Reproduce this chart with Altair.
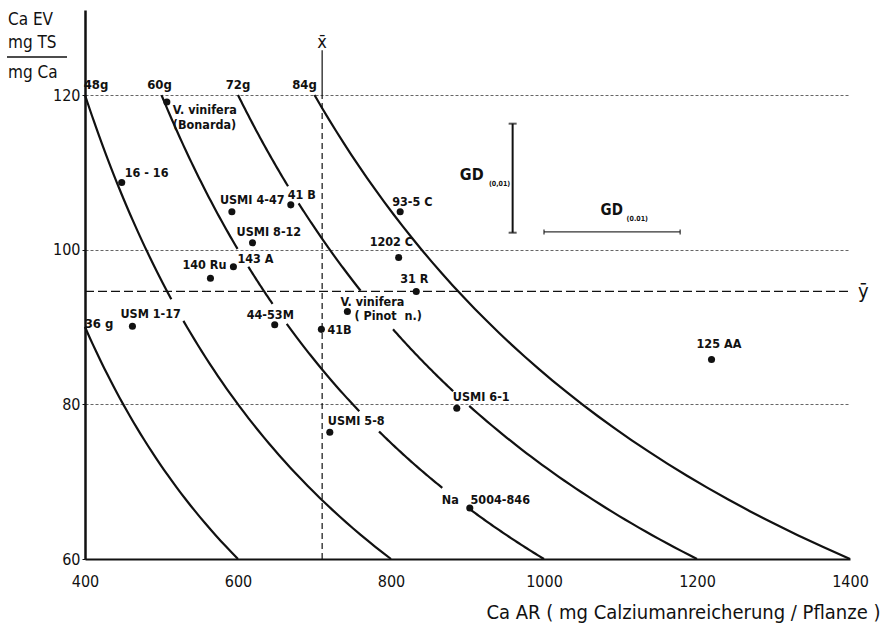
import altair as alt
import numpy as np
import pandas as pd

# ---------------- data ----------------
cultivars = ["V. vinifera (Bonarda)", "16-16", "USMI 4-47", "41 B", "USMI 8-12", "143 A",
             "140 Ru", "USM 1-17", "44-53M", "41B", "V. vinifera (Pinot n.)", "1202 C",
             "31 R", "USMI 6-1", "93-5C", "125 AA", "USMI 5-8", "Na 5004-846"]
ca_ar = [507, 448, 592, 669, 619, 594, 564, 462, 648, 709, 743, 810, 833, 886, 812, 1219, 720, 903]
ca_ev = [119.1, 108.7, 104.9, 105.8, 100.9, 97.8, 96.3, 90.1, 90.3, 89.7, 92.0, 99.0,
         94.6, 79.5, 104.9, 85.8, 76.4, 66.6]

# iso-lines of total dry matter (g TS per plant): Ca EV * Ca AR = const
dry_matter_g = [36, 48, 60, 72, 84]
dry_matter_labels = ["36 g", "48g", "60g", "72g", "84g"]
# Ca EV ranges where the printed curve is interrupted by a label
curve_gaps = {48: [(90.8, 93.6)],
              60: [(66.6, 69.2), (76.5, 79.1), (90.4, 93.0), (97.8, 100.1)],
              72: [(79.8, 81.7), (89.7, 94.7), (106.0, 108.2)]}

x_mean = 710
y_mean = 94.6
gd_vertical = [102.2, 116.3]      # GD(0,01) for Ca EV, drawn at Ca AR = 959
gd_vertical_at = 959
gd_horizontal = [1000, 1178]      # GD(0.01) for Ca AR, drawn at Ca EV = 102.3
gd_horizontal_at = 102.3

x_ticks = [400, 600, 800, 1000, 1200, 1400]
y_ticks = [60, 80, 100, 120]

# ---------------- styling ----------------
FONT = "DejaVu Sans Condensed"
INK = "#111111"
NB = "\u00a0"
LABEL_WEIGHT = "bold"

xs = alt.Scale(domain=[400, 1400], nice=False, zero=False)
ys = alt.Scale(domain=[60, 131], nice=False, zero=False)

pts = pd.DataFrame({"name": cultivars, "x": ca_ar, "y": ca_ev})

# curves
rows = []
for k in dry_matter_g:
    y_top = min(120.0, k * 1000 / 400)
    bounds = [60.0]
    for a, b in sorted(curve_gaps.get(k, [])):
        bounds += [a, b]
    bounds.append(y_top)
    for s in range(0, len(bounds), 2):
        for yv in np.linspace(bounds[s], bounds[s + 1], 40):
            rows.append({"g": k, "seg": f"{k}-{s}", "x": k * 1000 / yv, "y": yv})
curves = pd.DataFrame(rows)

X = lambda: alt.X("x:Q", scale=xs, axis=alt.Axis(
    values=x_ticks, format="d", grid=False, ticks=False, domainColor=INK, domainWidth=2,
    labelFont=FONT, labelFontSize=16, labelColor=INK, labelPadding=14, labelFlush=False,
    title="Ca AR ( mg Calziumanreicherung / Pflanze )", titleFont=FONT, titleFontSize=20,
    titleFontWeight="normal", titleColor=INK, titleX=795, titleY=53,
    titleAlign="right", titleBaseline="middle"))
Y = lambda: alt.Y("y:Q", scale=ys, axis=alt.Axis(
    values=y_ticks, format="d", grid=True, gridColor="#555555", gridWidth=0.9, gridDash=[3, 2],
    ticks=True, tickSize=3, tickColor=INK, domainColor=INK, domainWidth=2.5,
    labelFont=FONT, labelFontSize=16, labelColor=INK, labelPadding=2, title=None))

layers = []

curve_layer = alt.Chart(curves).mark_line(color=INK, strokeWidth=2.2).encode(
    x=X(), y=Y(), detail="seg:N", order="x:Q")
layers.append(curve_layer)

# mean lines
layers.append(alt.Chart(pd.DataFrame({"x": [x_mean]})).mark_rule(
    color=INK, strokeWidth=1.2, strokeDash=[6, 4]).encode(
    x="x:Q", y=alt.datum(60), y2=alt.datum(120)))
layers.append(alt.Chart(pd.DataFrame({"x": [x_mean]})).mark_rule(
    color=INK, strokeWidth=1.2).encode(
    x="x:Q", y=alt.datum(120), y2=alt.datum(125.8)))
layers.append(alt.Chart(pd.DataFrame({"x": [x_mean], "t": ["x\u0304"]})).mark_text(
    font=FONT, fontSize=18, color=INK, dy=-7).encode(
    x="x:Q", y=alt.datum(125.8), text="t:N"))
layers.append(alt.Chart(pd.DataFrame({"y": [y_mean]})).mark_rule(
    color=INK, strokeWidth=1.2, strokeDash=[9, 4]).encode(
    y="y:Q", x=alt.datum(400), x2=alt.datum(1400)))
layers.append(alt.Chart(pd.DataFrame({"y": [y_mean], "t": ["\u0233"]})).mark_text(
    font=FONT, fontSize=20, color=INK, align="left", dx=8, dy=1).encode(
    y="y:Q", x=alt.datum(1400), text="t:N"))

# GD bars
gdv = pd.DataFrame({"x": [gd_vertical_at], "y": [gd_vertical[0]], "y2": [gd_vertical[1]]})
layers.append(alt.Chart(gdv).mark_rule(color=INK, strokeWidth=2).encode(
    x="x:Q", y="y:Q", y2="y2:Q"))
gdv_caps = pd.DataFrame({"x": [gd_vertical_at] * 2, "y": gd_vertical})
layers.append(alt.Chart(gdv_caps).mark_tick(color=INK, orient="horizontal", size=8,
                                             thickness=2).encode(x="x:Q", y="y:Q"))
gdh = pd.DataFrame({"y": [gd_horizontal_at], "x": [gd_horizontal[0]], "x2": [gd_horizontal[1]]})
layers.append(alt.Chart(gdh).mark_rule(color="#333333", strokeWidth=1.4).encode(
    x="x:Q", x2="x2:Q", y="y:Q"))
gdh_caps = pd.DataFrame({"y": [gd_horizontal_at] * 2, "x": gd_horizontal})
layers.append(alt.Chart(gdh_caps).mark_tick(color=INK, orient="vertical", size=5,
                                             thickness=1.5).encode(x="x:Q", y="y:Q"))
gd_texts = [  # (x, y, text, size)
    (890, 109.6, "GD", 16), (928, 108.5, "(0,01)", 7),
    (1074, 105.1, "GD", 15), (1108, 104.0, "(0.01)", 7)]
for gx, gy, gt, gs in gd_texts:
    layers.append(alt.Chart(pd.DataFrame({"x": [gx], "y": [gy], "t": [gt]})).mark_text(
        font=FONT, fontSize=gs, color=INK, align="left", baseline="middle",
        fontWeight="bold").encode(x="x:Q", y="y:Q", text="t:N"))

# points
layers.append(alt.Chart(pts).mark_circle(size=50, color=INK, opacity=1).encode(
    x="x:Q", y="y:Q"))

# point labels (name, text, dx, dy)
point_labels = [
    ("V. vinifera (Bonarda)", "V. vinifera\n(Bonarda)", 6, 8),
    ("16-16", "16 - 16", 3, -9),
    ("USMI 4-47", "USMI 4-47", -12, -12),
    ("41 B", "41 B", -3, -10),
    ("USMI 8-12", "USMI 8-12", -16, -11),
    ("143 A", "143 A", 4, -8),
    ("140 Ru", "140 Ru", -28, -13),
    ("USM 1-17", "USM 1-17", -12, -12),
    ("44-53M", "44-53M", -28, -10),
    ("41B", "41B", 6, 1),
    ("V. vinifera (Pinot n.)", "V. vinifera", -7, -10),
    ("V. vinifera (Pinot n.)", "(" + NB + "Pinot" + NB + NB + "n.)", 7, 4),
    ("1202 C", "1202 C", -29, -15),
    ("31 R", "31 R", -16, -12),
    ("USMI 6-1", "USMI 6-1", -4, -11),
    ("93-5C", "93-5 C", -8, -10),
    ("125 AA", "125 AA", -15, -16),
    ("USMI 5-8", "USMI 5-8", -2, -11),
    ("Na 5004-846", "Na" + NB * 3 + "5004-846", -28, -8),
]
lookup = pts.set_index("name")
for name, txt, dx, dy in point_labels:
    d = pd.DataFrame({"x": [lookup.loc[name, "x"]], "y": [lookup.loc[name, "y"]], "t": [txt]})
    layers.append(alt.Chart(d).mark_text(
        font=FONT, fontSize=12.5, fontWeight=LABEL_WEIGHT, color=INK, align="left",
        baseline="middle", dx=dx, dy=dy, lineBreak="\n", lineHeight=15).encode(
        x="x:Q", y="y:Q", text="t:N"))

# curve labels
curve_label_offsets = {36: (14, -3), 48: (11, -10), 60: (-2, -10), 72: (0, -10), 84: (-10, -10)}
for k, lab in zip(dry_matter_g, dry_matter_labels):
    y_top = min(120.0, k * 1000 / 400)
    dx, dy = curve_label_offsets[k]
    d = pd.DataFrame({"x": [k * 1000 / y_top], "y": [y_top], "t": [lab]})
    layers.append(alt.Chart(d).mark_text(
        font=FONT, fontSize=13, fontWeight=LABEL_WEIGHT, color=INK, align="center",
        baseline="middle", dx=dx, dy=dy).encode(x="x:Q", y="y:Q", text="t:N"))

# y-axis title as fraction
one = pd.DataFrame({"a": [0]})
for txt, yy in [("Ca EV", 10), ("mg TS", 33), ("mg Ca", 63)]:
    layers.append(alt.Chart(one).mark_text(
        font=FONT, fontSize=17, color=INK, align="left", baseline="middle").encode(
        x=alt.value(-77), y=alt.value(yy), text=alt.value(txt)))
layers.append(alt.Chart(one).mark_rule(color=INK, strokeWidth=1.5).encode(
    x=alt.value(-78), x2=alt.value(-18), y=alt.value(47)))

chart = alt.layer(*layers).properties(
    width=765, height=549,
    autosize=alt.AutoSizeParams(type="none"),
    padding={"left": 85, "top": 10, "right": 31, "bottom": 73},
    background="white",
).configure_view(stroke=None)

chart.save("out.html", embed_options={"renderer": "svg", "actions": False})
